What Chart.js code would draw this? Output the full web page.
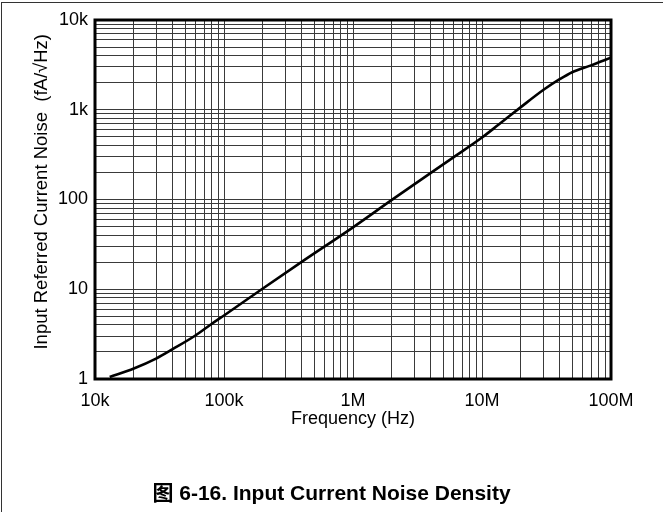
<!DOCTYPE html>
<html><head><meta charset="utf-8">
<script src="https://cdn.jsdelivr.net/npm/chart.js@4/dist/chart.umd.min.js"></script>
<style>
html,body{margin:0;padding:0;background:#fff;}
#wrap{position:relative;width:663px;height:512px;overflow:hidden;}
#frame{position:absolute;left:1px;top:2px;width:700px;height:600px;border-top:1px solid #333;border-left:1px solid #333;}
#cap{position:absolute;left:0;width:663px;top:481px;height:24px;line-height:24px;text-align:center;font-weight:bold;font-size:21px;font-family:"Liberation Sans","Noto Sans CJK SC",Arial,sans-serif;color:#000;}
canvas{position:absolute;left:0;top:0;}
</style></head>
<body><div id="wrap"><div id="frame"></div><canvas id="c" width="663" height="512"></canvas><div id="cap">图 6-16. Input Current Noise Density</div></div>
<script>
const freqHz = [13e3, 20e3, 30e3, 40e3, 60e3, 80e3, 100e3, 200e3, 400e3, 1e6, 2e6, 6e6, 10e6, 13.4e6, 20e6, 30e6, 40e6, 50e6, 70e6, 100e6];
const noiseFA = [1.05, 1.31, 1.70, 2.15, 3.05, 4.1, 5.1, 10.2, 20.2, 49, 99, 295, 490, 680, 1070, 1670, 2190, 2620, 3120, 3800];
const xDecades = [1e4, 1e5, 1e6, 1e7, 1e8];
const xTickLabels = ['10k', '100k', '1M', '10M', '100M'];
const yDecades = [1, 10, 100, 1e3, 1e4];
const yTickLabels = ['1', '10', '100', '1k', '10k'];

function logTicks(decades) {
  const t = [];
  for (let i = 0; i < decades.length - 1; i++) {
    for (let m = 1; m <= 9; m++) t.push({ value: m * decades[i] });
  }
  t.push({ value: decades[decades.length - 1] });
  return t;
}
function labelFor(decades, labels) {
  return function (value) {
    for (let i = 0; i < decades.length; i++) {
      if (Math.abs(value - decades[i]) / decades[i] < 1e-9) return labels[i];
    }
    return '';
  };
}
const FONT = '"Liberation Sans", Arial, sans-serif';

const frameBox = {
  id: 'frameBox',
  afterDraw(chart) {
    const a = chart.chartArea, ctx = chart.ctx;
    ctx.save();
    ctx.strokeStyle = '#000';
    ctx.lineWidth = 3;
    ctx.strokeRect(a.left, a.top, a.right - a.left, a.bottom - a.top);
    ctx.restore();
  }
};

new Chart(document.getElementById('c'), {
  type: 'line',
  data: {
    datasets: [{
      data: freqHz.map((f, i) => ({ x: f, y: noiseFA[i] })),
      borderColor: '#000',
      borderWidth: 2.6,
      pointRadius: 0,
      cubicInterpolationMode: 'monotone',
      fill: false
    }]
  },
  options: {
    responsive: false,
    animation: false,
    devicePixelRatio: 1,
    layout: { padding: { left: 0, top: 20, right: 52, bottom: 73 } },
    plugins: { legend: { display: false }, tooltip: { enabled: false }, title: { display: false } },
    scales: {
      x: {
        type: 'logarithmic',
        min: 1e4, max: 1e8,
        afterBuildTicks: s => { s.ticks = logTicks(xDecades); },
        afterFit: s => { s.height = 60; },
        grid: { color: '#3a3a3a', lineWidth: 1, drawTicks: false },
        border: { display: false },
        ticks: { autoSkip: false, maxRotation: 0, padding: 11, color: '#000', font: { family: FONT, size: 18 }, callback: labelFor(xDecades, xTickLabels) },
        title: { display: true, text: 'Frequency (Hz)', color: '#000', font: { family: FONT, size: 18 }, padding: { top: 0, bottom: 9 } }
      },
      y: {
        type: 'logarithmic',
        min: 1, max: 1e4,
        afterBuildTicks: s => { s.ticks = logTicks(yDecades); },
        afterFit: s => { s.width = 95; },
        grid: { color: '#3a3a3a', lineWidth: 1, drawTicks: false },
        border: { display: false },
        ticks: { autoSkip: false, padding: 7, color: '#000', font: { family: FONT, size: 18 }, callback: labelFor(yDecades, yTickLabels) },
        title: { display: true, text: '   Input Referred Current Noise  (fA/\u221AHz)', color: '#000', font: { family: FONT, size: 18.5 }, padding: { top: 31, bottom: 0 } }
      }
    }
  },
  plugins: [frameBox]
});
</script>
</body></html>
